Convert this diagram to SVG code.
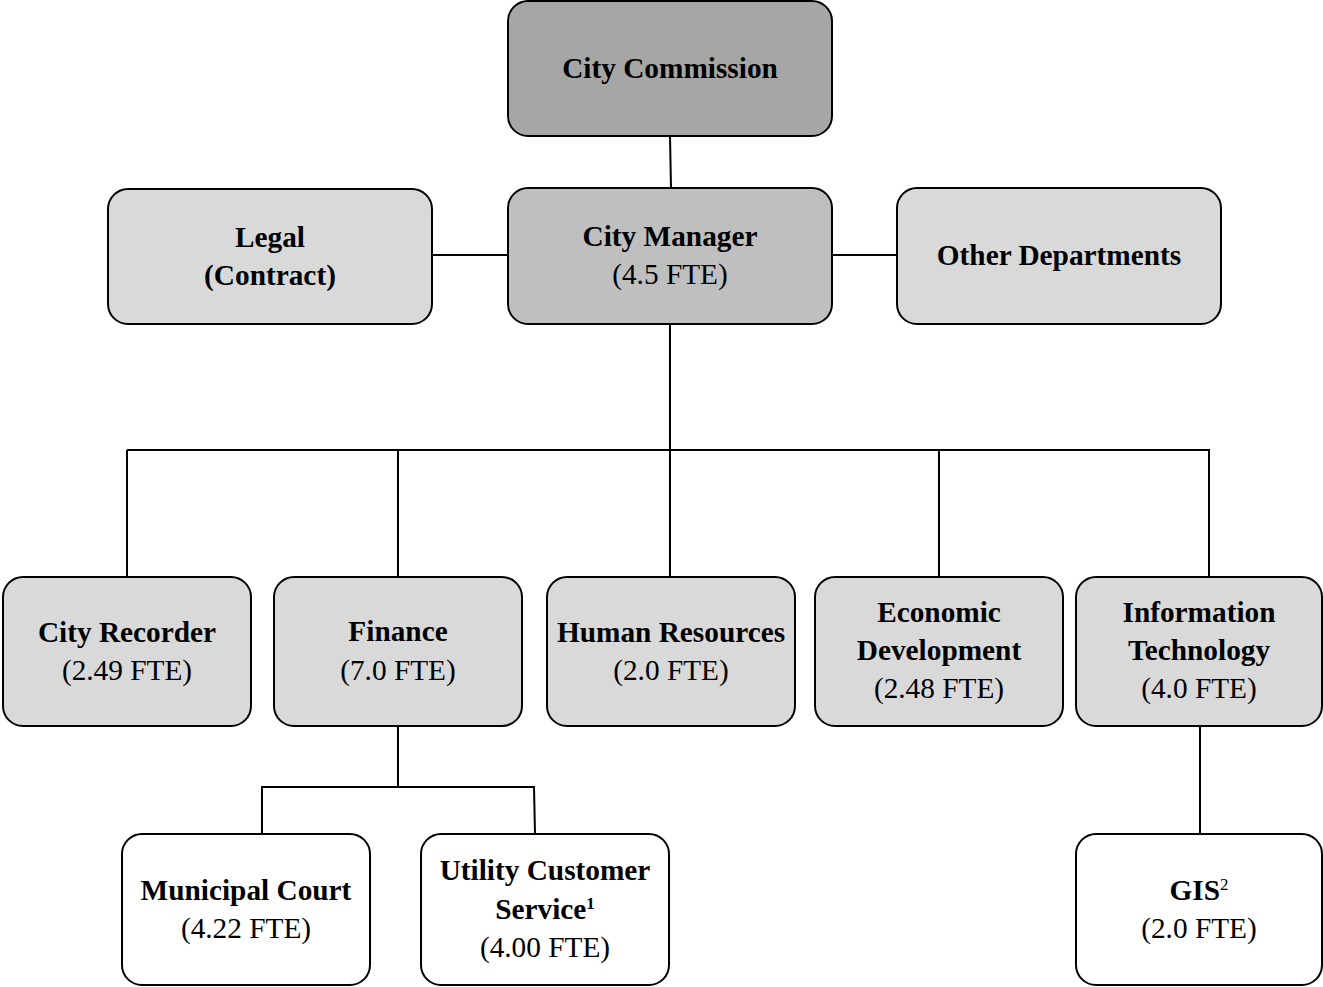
<svg xmlns="http://www.w3.org/2000/svg" width="1323" height="987" viewBox="0 0 1323 987">
<style>
.box{stroke:#000;stroke-width:2}
.c1{fill:#a6a6a6}.c2{fill:#bfbfbf}.c3{fill:#d9d9d9}.c4{fill:#fff}
text{font-family:"Liberation Serif","Times New Roman",serif;font-size:29.3px;text-anchor:middle;fill:#000}
.b{font-weight:bold}
.sup{font-size:17px}
#connectors line,#connectors polyline{stroke:#000;stroke-width:2;fill:none}
</style>
<rect width="1323" height="987" fill="#fff"/>
<g id="connectors">
<line x1="670" y1="136" x2="671" y2="188"/>
<line x1="432" y1="255" x2="508" y2="255"/>
<line x1="832" y1="255" x2="897" y2="255"/>
<line x1="670" y1="324" x2="670" y2="450"/>
<line x1="127" y1="450" x2="1210" y2="450"/>
<line x1="127" y1="450" x2="127" y2="577"/>
<line x1="398" y1="450" x2="398" y2="577"/>
<line x1="670" y1="450" x2="670" y2="577"/>
<line x1="939" y1="450" x2="939" y2="577"/>
<line x1="1209" y1="450" x2="1209" y2="577"/>
<line x1="398" y1="726" x2="398" y2="787"/>
<polyline points="262,834 262,787 534,787 535,834"/>
<line x1="1200" y1="726" x2="1200" y2="834"/>
</g>
<g id="city-commission"><rect class="box c1" x="508" y="1" width="324" height="135" rx="20"/><text class="b" x="670" y="78">City Commission</text></g>
<g id="legal"><rect class="box c3" x="108" y="189" width="324" height="135" rx="20"/><text class="b" x="270" y="247">Legal</text><text class="b" x="270" y="285">(Contract)</text></g>
<g id="city-manager"><rect class="box c2" x="508" y="188" width="324" height="136" rx="20"/><text class="b" x="670" y="246">City Manager</text><text x="670" y="284">(4.5 FTE)</text></g>
<g id="other-departments"><rect class="box c3" x="897" y="188" width="324" height="136" rx="20"/><text class="b" x="1059" y="265">Other Departments</text></g>
<g id="city-recorder"><rect class="box c3" x="3" y="577" width="248" height="149" rx="20"/><text class="b" x="127" y="642">City Recorder</text><text x="127" y="680">(2.49 FTE)</text></g>
<g id="finance"><rect class="box c3" x="274" y="577" width="248" height="149" rx="20"/><text class="b" x="398" y="641">Finance</text><text x="398" y="680">(7.0 FTE)</text></g>
<g id="human-resources"><rect class="box c3" x="547" y="577" width="248" height="149" rx="20"/><text class="b" x="671" y="642">Human Resources</text><text x="671" y="680">(2.0 FTE)</text></g>
<g id="economic-development"><rect class="box c3" x="815" y="577" width="248" height="149" rx="20"/><text class="b" x="939" y="622">Economic</text><text class="b" x="939" y="660">Development</text><text x="939" y="698">(2.48 FTE)</text></g>
<g id="information-technology"><rect class="box c3" x="1076" y="577" width="246" height="149" rx="20"/><text class="b" x="1199" y="622">Information</text><text class="b" x="1199" y="660">Technology</text><text x="1199" y="698">(4.0 FTE)</text></g>
<g id="municipal-court"><rect class="box c4" x="122" y="834" width="248" height="151" rx="20"/><text class="b" x="246" y="900">Municipal Court</text><text x="246" y="938">(4.22 FTE)</text></g>
<g id="utility-customer-service"><rect class="box c4" x="421" y="834" width="248" height="151" rx="20"/><text class="b" x="545" y="880">Utility Customer</text><text class="b" x="545" y="919">Service<tspan class="sup" dy="-10">1</tspan></text><text x="545" y="957">(4.00 FTE)</text></g>
<g id="gis"><rect class="box c4" x="1076" y="834" width="246" height="151" rx="20"/><text x="1199" y="900"><tspan class="b">GIS</tspan><tspan class="sup" dy="-10">2</tspan></text><text x="1199" y="938">(2.0 FTE)</text></g>
</svg>
